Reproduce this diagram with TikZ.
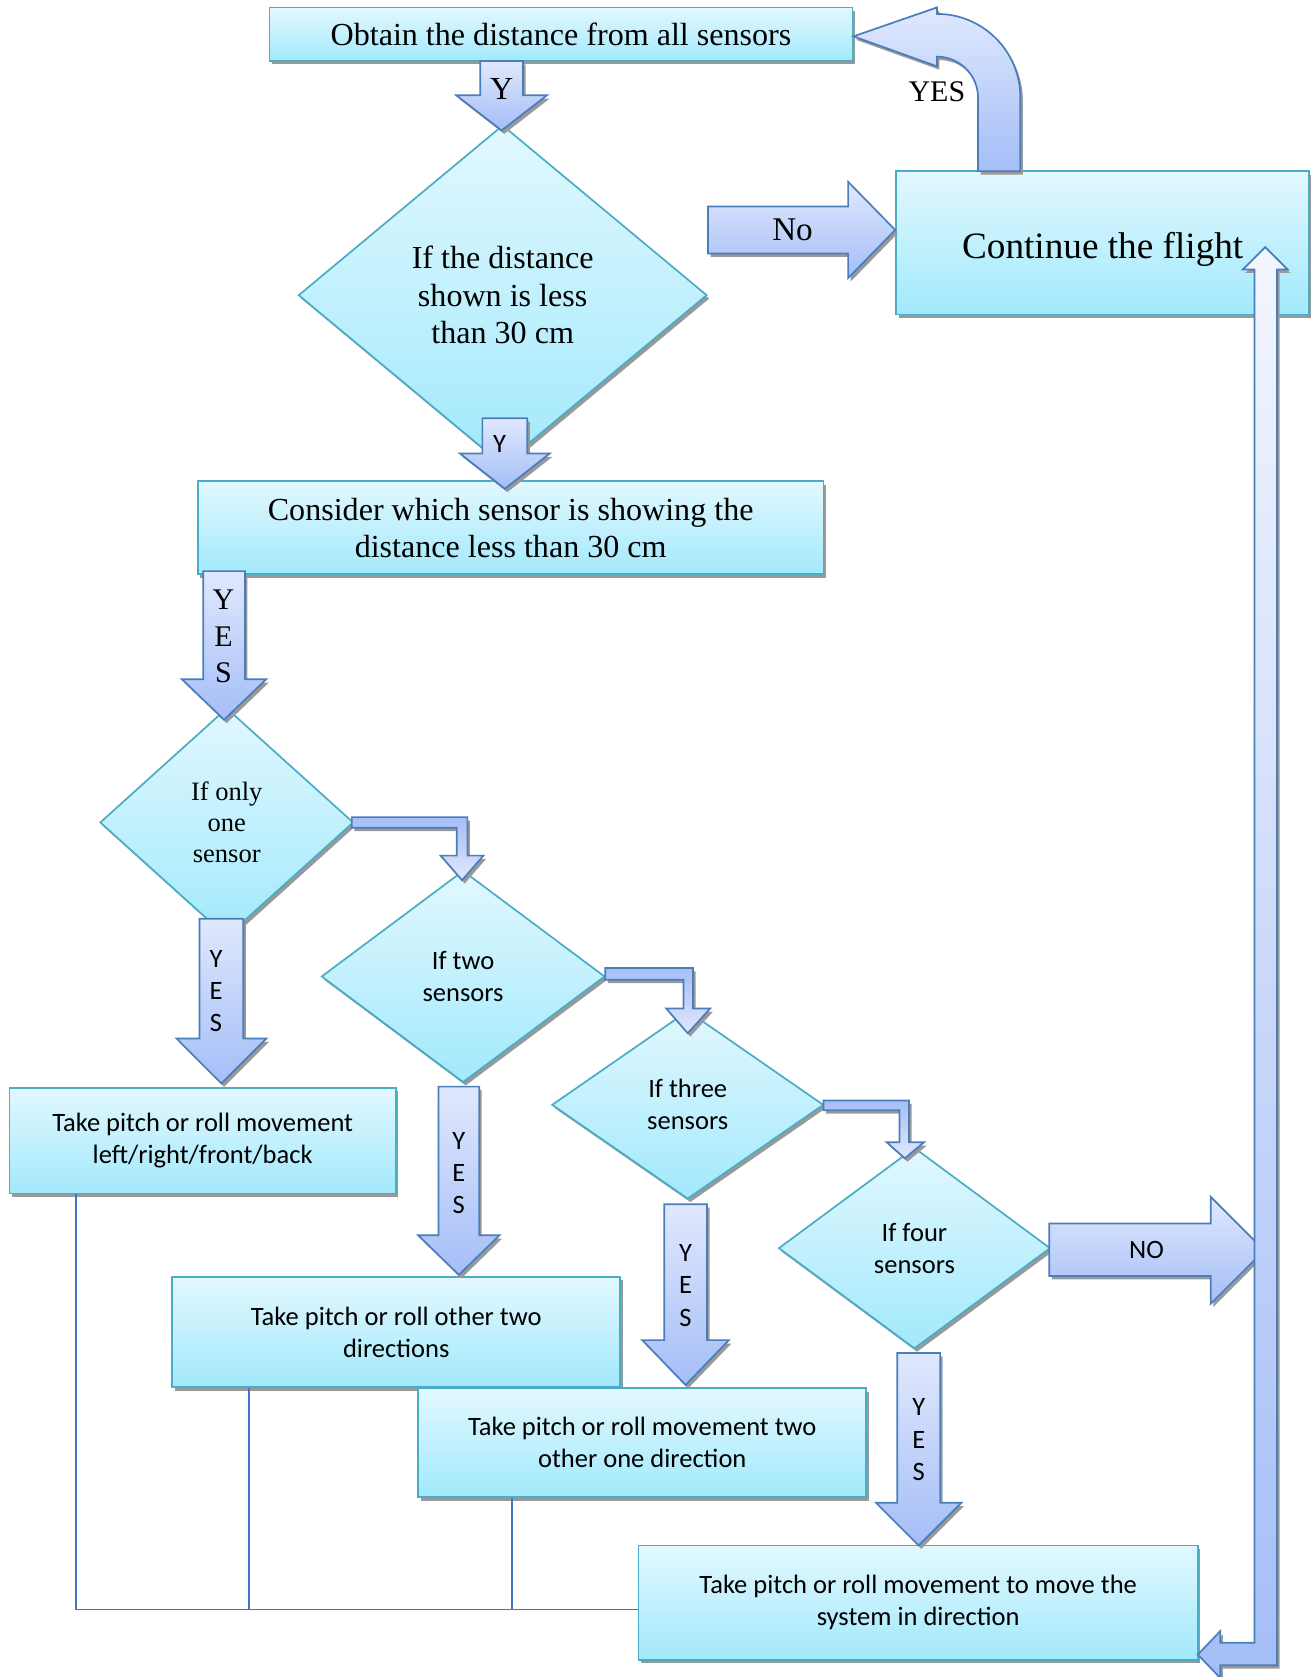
\documentclass[tikz,border=0pt]{standalone}
\usepackage{fontspec}
\setmainfont{Liberation Serif}
\newfontfamily\calibri{Carlito}
\usetikzlibrary{shapes.geometric,shadows}
\definecolor{boxtop}{HTML}{E2F8FE}
\definecolor{boxbot}{HTML}{A2E9FC}
\definecolor{boxedge}{HTML}{4BACC6}
\definecolor{arrowtop}{HTML}{E0E8FD}
\definecolor{arrowbot}{HTML}{A4BEF7}
\definecolor{arrowedge}{HTML}{4A7EBB}
\definecolor{linkblue}{HTML}{4472C4}
\tikzset{
  softshadow/.style={drop shadow={shadow xshift=1.2pt,shadow yshift=-1.6pt,fill=black!40,opacity=1}},
  box/.style={rectangle, draw=boxedge, line width=0.8pt, top color=boxtop, bottom color=boxbot, softshadow, align=center, inner sep=0pt},
  decision/.style={diamond, draw=boxedge, line width=0.8pt, top color=boxtop, bottom color=boxbot, softshadow, align=center, inner sep=0pt},
  blockarrow/.style={draw=arrowedge, line width=0.8pt, top color=arrowtop, bottom color=arrowbot, softshadow},
  flipped/.style={draw=arrowedge, line width=0.8pt, top color=arrowbot, bottom color=arrowtop, softshadow},
  link/.style={draw=linkblue, line width=0.8pt},
  serifbig/.style={font=\fontsize{15}{17.5}\selectfont, align=center},
  sanstext/.style={font=\calibri\fontsize{12.4}{15}\selectfont, align=center}
}
\newcommand{\dnarrow}[6]{\draw[blockarrow] (#1-#5,#2) -- (#1+#5,#2) -- (#1+#5,#3) -- (#1+#6,#3) -- (#1,#4) -- (#1-#6,#3) -- (#1-#5,#3) -- cycle;}

\begin{document}
\begin{tikzpicture}[x=0.5pt,y=-0.5pt]
\useasboundingbox (0,0) rectangle (1225,1568);

\node[box, serifbig, minimum width=272.5pt, minimum height=25pt] (obtain) at (524.5,32) {Obtain the distance from all sensors};
\node[decision, serifbig, minimum width=191pt, minimum height=159pt] (dist) at (470,276) {If the distance\\shown is less\\than 30 cm};
\node[box, font=\fontsize{17.4}{20}\selectfont, text height=14.5pt, text depth=0pt, minimum width=193pt, minimum height=67pt] (cont) at (1031,227) {Continue the flight};
\node[box, serifbig, minimum width=292.5pt, minimum height=43.5pt] (consider) at (477.5,493.5) {Consider which sensor is showing the\\distance less than 30 cm};
\node[decision, font=\fontsize{12.4}{14.5}\selectfont, minimum width=118.5pt, minimum height=107pt] (one) at (212,769) {If only\\one\\sensor};
\node[decision, sanstext, minimum width=132.5pt, minimum height=99pt] (two) at (433,913) {If two\\sensors};
\node[decision, sanstext, minimum width=127pt, minimum height=88pt] (three) at (643,1033) {If three\\sensors};
\node[decision, sanstext, minimum width=127pt, minimum height=94pt] (four) at (855,1167) {If four\\sensors};
\node[box, sanstext, minimum width=180.5pt, minimum height=49.5pt] (leftmove) at (189.5,1066.5) {Take pitch or roll movement\\left/right/front/back};
\node[box, sanstext, minimum width=209.5pt, minimum height=51.5pt] (twomove) at (370.5,1245.5) {Take pitch or roll other two\\directions};
\node[box, sanstext, minimum width=209.5pt, minimum height=51pt] (onemove) at (600.5,1349) {Take pitch or roll movement two\\other one direction};
\node[box, sanstext, minimum width=261.5pt, minimum height=53.5pt] (fourmove) at (858.5,1498.5) {Take pitch or roll movement to move the\\system in direction};

\coordinate (join) at (71,1505);
\coordinate (jointwo) at (233,1505);
\coordinate (joinone) at (479,1505);
\draw[link] (leftmove.south -| join) -- (join) -- (fourmove.west |- join);
\draw[link] (twomove.south -| jointwo) -- (jointwo);
\draw[link] (onemove.south -| joinone) -- (joinone);

\dnarrow{469}{57}{89}{122}{20}{42.5}
\node[serifbig] (ytop) at (469,83) {Y};
\dnarrow{472}{391}{424}{457}{21}{42}
\node[sanstext] (ydist) at (467,415) {Y};
\dnarrow{209.5}{534}{635}{673}{19.5}{39.5}
\node[font=\fontsize{14}{17}\selectfont, align=center] (yesconsider) at (209,595) {Y\\E\\S};
\dnarrow{207}{859}{971}{1013}{20.5}{42}
\node[sanstext] (yesone) at (202,927) {Y\\E\\S};
\dnarrow{429}{1016}{1155}{1192}{19}{38}
\node[sanstext] (yestwo) at (429,1097) {Y\\E\\S};
\dnarrow{641}{1126}{1253}{1295}{20}{40.5}
\node[sanstext] (yesthree) at (641,1202) {Y\\E\\S};
\dnarrow{859}{1265}{1405}{1445}{20}{40}
\node[sanstext] (yesfour) at (859,1346) {Y\\E\\S};

\draw[flipped] (329,764) -- (437,764) -- (437,800) -- (452,800) -- (432,823) -- (412,800) -- (427,800) -- (427,774) -- (329,774) -- cycle;
\draw[flipped] (566,905) -- (648,905) -- (648,943) -- (664,943) -- (643,966) -- (623,943) -- (639,943) -- (639,916) -- (566,916) -- cycle;
\draw[flipped] (770,1029) -- (850,1029) -- (850,1068) -- (864,1068) -- (846,1083) -- (829,1068) -- (841,1068) -- (841,1038) -- (770,1038) -- cycle;

\draw[blockarrow] (662,193) -- (793,193) -- (793,170) -- (837,215) -- (793,260) -- (793,237) -- (662,237) -- cycle;
\node[font=\fontsize{15.5}{18}\selectfont] (nolab) at (741,215) {No};
\draw[blockarrow] (981,1144) -- (1132,1144) -- (1132,1119) -- (1182,1169) -- (1132,1219) -- (1132,1193) -- (981,1193) -- cycle;
\node[sanstext] (nofour) at (1072,1169) {NO};

\draw[blockarrow] (914.5,160) -- (954,160) -- (954,91) arc (0:-90:78) -- (876,7) -- (798,34) -- (876,62) -- (876,53) arc (-90:0:38.5) -- cycle;
\node[font=\fontsize{14}{17}\selectfont] (yesback) at (876,86) {YES};

\draw[blockarrow, top color=white!60!arrowtop] (1183,231) -- (1204,252) -- (1194,252) -- (1194,1557) -- (1141,1557) -- (1141,1569) -- (1120,1547) -- (1141,1525) -- (1141,1536) -- (1173,1536) -- (1173,252) -- (1162,252) -- cycle;
\end{tikzpicture}
\end{document}
